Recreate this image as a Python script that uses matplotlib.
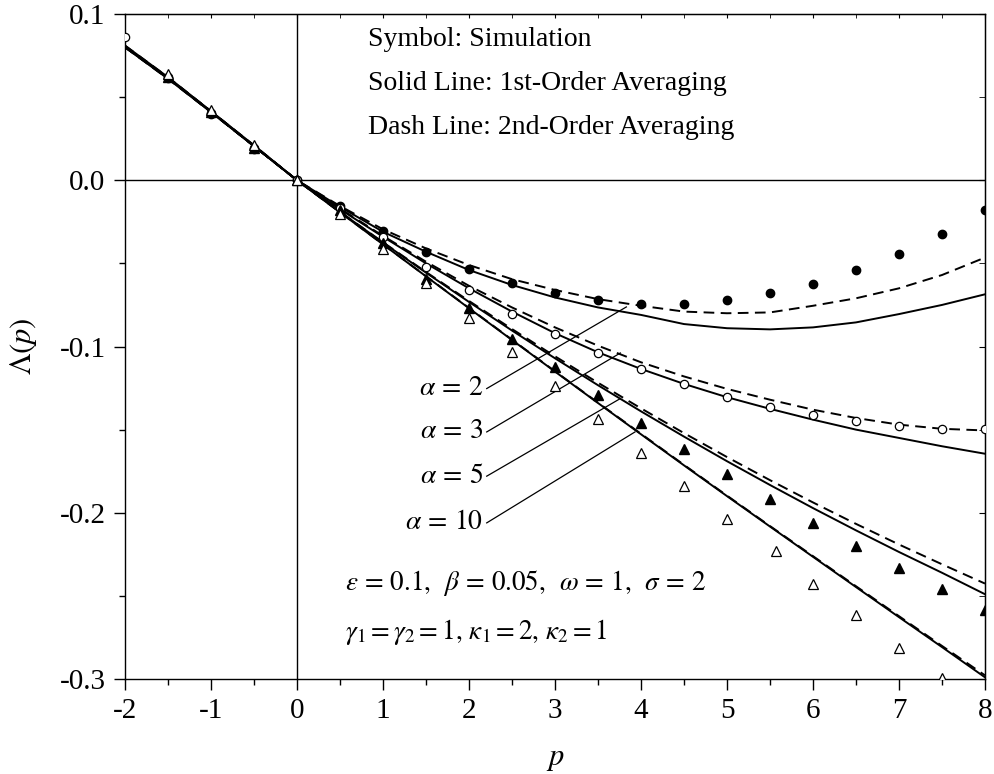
import matplotlib
matplotlib.use('Agg')
import matplotlib.pyplot as plt
from matplotlib.ticker import MultipleLocator

plt.rcParams['font.family'] = ['Liberation Serif', 'DejaVu Serif']
plt.rcParams['mathtext.fontset'] = 'stix'
plt.rcParams['axes.unicode_minus'] = False

# x grid of the averaging curves
p_line = [-2, -1.5, -1, -0.5, 0, 0.5, 1, 1.5, 2, 2.5, 3, 3.5, 4, 4.5, 5, 5.5, 6, 6.5, 7, 7.5, 8]

# solid = 1st-order averaging, dash = 2nd-order averaging
first_a2 = [0.0805, 0.0615, 0.0415, 0.0205, 0, -0.016, -0.031, -0.043, -0.054, -0.063, -0.0705,
            -0.0765, -0.081, -0.0865, -0.089, -0.0897, -0.0885, -0.0855, -0.0805, -0.075, -0.0686]
second_a2 = [0.0805, 0.0615, 0.0415, 0.0205, 0, -0.0155, -0.0295, -0.041, -0.051, -0.0595, -0.066,
             -0.0715, -0.0755, -0.079, -0.080, -0.0795, -0.0755, -0.071, -0.065, -0.057, -0.0465]
first_a3 = [0.080, 0.061, 0.041, 0.0205, 0, -0.0175, -0.034, -0.050, -0.065, -0.079, -0.092,
            -0.1035, -0.1135, -0.1225, -0.1305, -0.1375, -0.144, -0.150, -0.155, -0.160, -0.1645]
second_a3 = [0.080, 0.061, 0.041, 0.0205, 0, -0.017, -0.0335, -0.049, -0.0635, -0.0765, -0.0885,
             -0.0995, -0.1095, -0.118, -0.1255, -0.132, -0.138, -0.143, -0.147, -0.1495, -0.1505]
first_a5 = [0.080, 0.0615, 0.041, 0.0205, 0, -0.019, -0.0375, -0.0556, -0.0732, -0.0904, -0.1071,
            -0.1233, -0.139, -0.1542, -0.169, -0.1833, -0.1972, -0.2106, -0.2236, -0.2361, -0.249]
second_a5 = [0.080, 0.0615, 0.041, 0.0205, 0, -0.019, -0.0373, -0.0552, -0.0726, -0.0895, -0.1059,
             -0.1218, -0.1372, -0.1521, -0.1665, -0.1804, -0.1938, -0.2067, -0.2191, -0.231, -0.2426]
first_a10 = [0.081, 0.062, 0.0415, 0.021, 0, -0.0193, -0.0386, -0.0578, -0.077, -0.0961, -0.1151,
             -0.134, -0.1528, -0.1715, -0.19, -0.2083, -0.2265, -0.2447, -0.2628, -0.2808, -0.299]
second_a10 = [0.081, 0.062, 0.0415, 0.021, 0, -0.0193, -0.0385, -0.0577, -0.0768, -0.0959, -0.1149,
              -0.1338, -0.1525, -0.1712, -0.1897, -0.208, -0.2261, -0.2442, -0.2622, -0.2801, -0.2978]

# simulation symbols
p_sim2 = [-1.5, -1, -0.5, 0, 0.5, 1, 1.5, 2, 2.5, 3, 3.5, 4, 4.5, 5, 5.5, 6, 6.5, 7, 7.5, 8]
sim_a2 = [0.0615, 0.040, 0.019, 0, -0.0156, -0.0307, -0.0431, -0.0531, -0.0616, -0.0678, -0.0718,
          -0.0742, -0.0742, -0.0718, -0.0678, -0.0622, -0.0541, -0.0441, -0.0321, -0.0176]
p_sim3 = [-2, -1.5, -1, -0.5, 0, 0.5, 1, 1.5, 2, 2.5, 3, 3.5, 4, 4.5, 5, 5.5, 6, 6.5, 7, 7.5, 8]
sim_a3 = [0.086, 0.062, 0.0405, 0.0195, 0, -0.0165, -0.034, -0.0521, -0.0662, -0.0806, -0.0926,
          -0.1037, -0.1137, -0.1223, -0.1303, -0.1363, -0.1414, -0.145, -0.148, -0.1494, -0.1494]
p_sim5 = [-1.5, -1, -0.5, 0, 0.5, 1, 1.5, 2, 2.5, 3, 3.5, 4, 4.5, 5, 5.5, 6, 6.5, 7, 7.5, 8]
sim_a5 = [0.062, 0.041, 0.0195, 0, -0.018, -0.038, -0.0591, -0.0768, -0.0952, -0.1123, -0.1293,
          -0.146, -0.1618, -0.1768, -0.1919, -0.2061, -0.2202, -0.2332, -0.246, -0.2582]
p_sim10 = [-1.5, -1, -0.5, 0, 0.5, 1, 1.5, 2, 2.5, 3, 3.5, 4, 4.5, 5, 5.57, 6, 6.5, 7, 7.5]
sim_a10 = [0.0638, 0.0425, 0.0215, 0, -0.020, -0.0415, -0.0621, -0.0828, -0.1033, -0.1239, -0.1438,
           -0.1638, -0.1839, -0.2035, -0.2232, -0.2426, -0.2617, -0.2811, -0.2995]

# alpha labels: text position and where the leader line ends
alpha_names = [r'$\alpha\,=\,2$', r'$\alpha\,=\,3$', r'$\alpha\,=\,5$', r'$\alpha\,=\,10$']
label_y = [-0.1253, -0.1514, -0.178, -0.2061]
leader_end_x = [3.83, 3.76, 3.76, 3.93]
leader_end_y = [-0.0762, -0.1039, -0.1313, -0.1514]

xticks = [-2, -1, 0, 1, 2, 3, 4, 5, 6, 7, 8]
yticks = [-0.3, -0.2, -0.1, 0.0, 0.1]
ytick_labels = ['-0.3', '-0.2', '-0.1', '0.0', '0.1']

fig = plt.figure(figsize=(9.95, 7.74), dpi=100)
ax = fig.add_axes([0.12563, 0.12274, 0.86432, 0.85917])

ax.axhline(0, color='black', lw=1.0, zorder=1)
ax.axvline(0, color='black', lw=1.0, zorder=1)

dash = (5.5, 3.3)
for first, second in [(first_a2, second_a2), (first_a3, second_a3),
                      (first_a5, second_a5), (first_a10, second_a10)]:
    ax.plot(p_line, first, color='black', lw=1.4, zorder=2)
    ax.plot(p_line, second, color='black', lw=1.4, dashes=dash, zorder=2)

ax.plot(p_sim2, sim_a2, 'o', ms=6, mfc='black', mec='black', zorder=3)
ax.plot(p_sim3, sim_a3, 'o', ms=6, mfc='white', mec='black', mew=0.9, zorder=3)
ax.plot(p_sim5, sim_a5, '^', ms=6.5, mfc='black', mec='black', zorder=3)
ax.plot(p_sim10, sim_a10, '^', ms=6.5, mfc='white', mec='black', mew=0.9, zorder=3)

for name, ly, ex, ey in zip(alpha_names, label_y, leader_end_x, leader_end_y):
    ax.plot([2.206, ex], [ly, ey], color='black', lw=0.9, zorder=2)
    ax.text(2.16, ly, name, ha='right', va='center', fontsize=20)

ax.text(0.2826, 0.961, 'Symbol: Simulation', transform=ax.transAxes, fontsize=20, va='center')
ax.text(0.2826, 0.896, 'Solid Line: 1st-Order Averaging', transform=ax.transAxes, fontsize=20, va='center')
ax.text(0.2826, 0.829, 'Dash Line: 2nd-Order Averaging', transform=ax.transAxes, fontsize=20, va='center')

ax.text(0.2558, 0.144, r'$\varepsilon\,=\,0.1,\ \,\beta\,=\,0.05,\ \,\omega\,=\,1,\ \,\sigma\,=\,2$',
        transform=ax.transAxes, fontsize=19.5, va='center')
ax.text(0.2558, 0.071, r'$\gamma_1 = \gamma_2 = 1,\,\kappa_1 = 2,\,\kappa_2 = 1$',
        transform=ax.transAxes, fontsize=19.5, va='center')

ax.set_xlim(-2, 8)
ax.set_ylim(-0.3, 0.1)
ax.set_xticks(xticks)
ax.set_xticklabels([str(t) for t in xticks])
ax.set_yticks(yticks)
ax.set_yticklabels(ytick_labels)
ax.xaxis.set_minor_locator(MultipleLocator(0.5))
ax.yaxis.set_minor_locator(MultipleLocator(0.05))
ax.tick_params(which='major', direction='out', length=8, width=1, labelsize=21, pad=6)
ax.tick_params(which='minor', direction='out', length=4, width=1)

# inward ticks on the top and right frame
top = ax.secondary_xaxis('top')
top.set_xticks(xticks)
top.xaxis.set_minor_locator(MultipleLocator(0.5))
top.tick_params(which='both', direction='in', length=3, labeltop=False)
right = ax.secondary_yaxis('right')
right.set_yticks(yticks)
right.yaxis.set_minor_locator(MultipleLocator(0.05))
right.tick_params(which='both', direction='in', length=4, labelright=False)

for s in ax.spines.values():
    s.set_linewidth(1.0)

ax.set_xlabel(r'$p$', fontsize=22)
ax.set_ylabel(r'$\Lambda(p)$', fontsize=22)
ax.xaxis.set_label_coords(0.5, -0.098)
ax.yaxis.set_label_coords(-0.1, 0.5)

fig.savefig('out.png', dpi=100)
